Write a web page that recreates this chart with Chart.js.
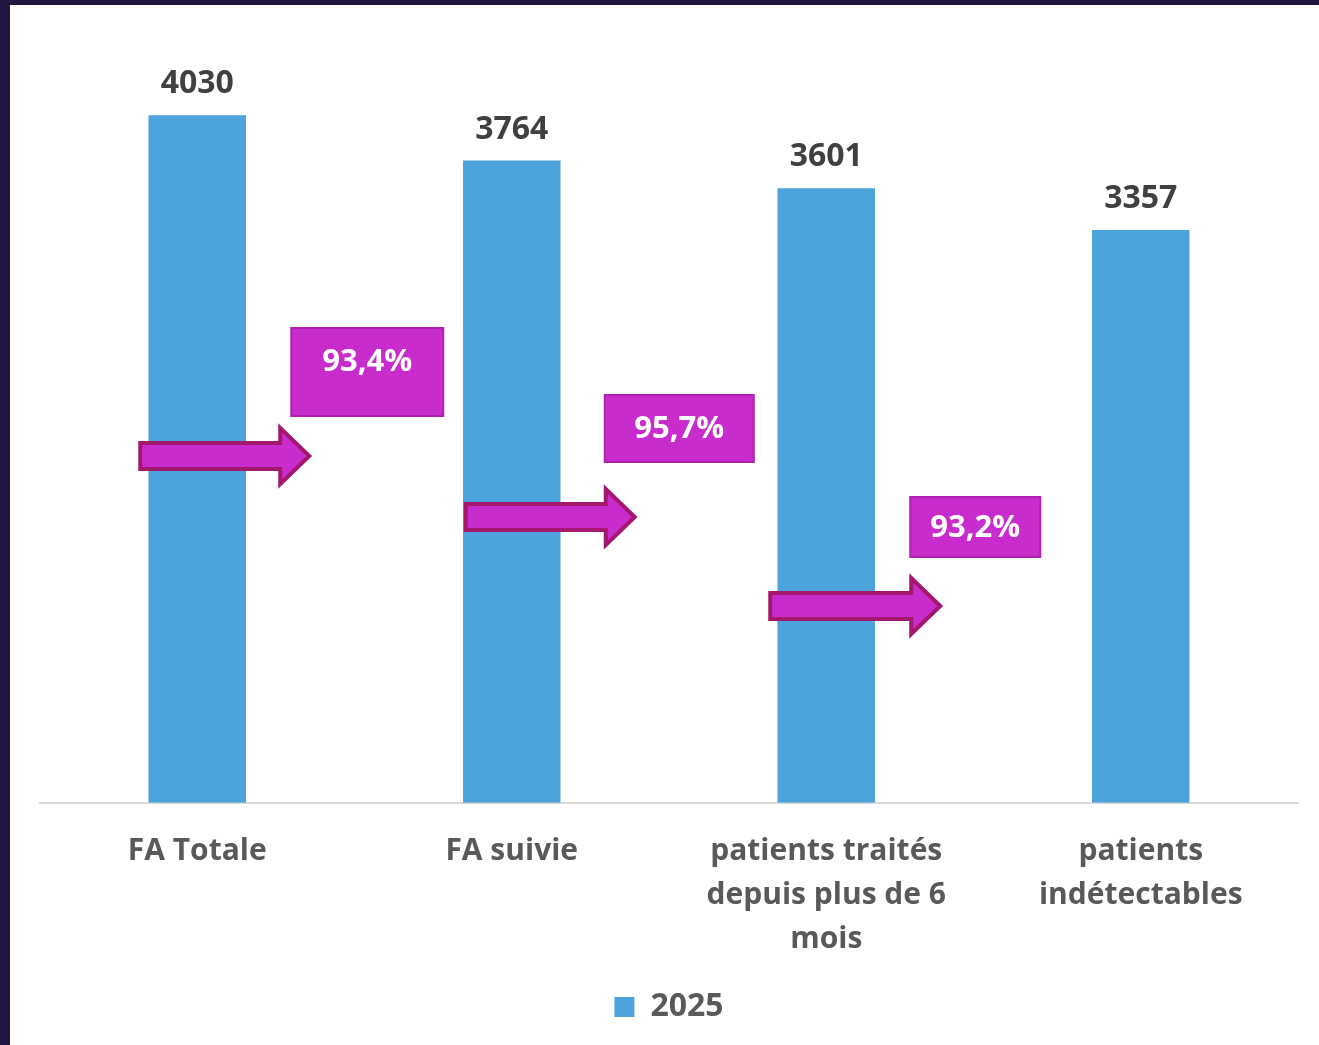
<!DOCTYPE html>
<html><head><meta charset="utf-8">
<script src="https://cdn.jsdelivr.net/npm/chart.js@4"></script>
<style>
html,body{margin:0;padding:0;background:#211640;}
#wrap{position:absolute;left:10px;top:5px;width:1309px;height:1040px;background:#fff;}
canvas{display:block;}
</style></head><body>
<div id="wrap"><canvas id="c" width="1309" height="1040"></canvas></div>
<script>
const categories = [["FA Totale"], ["FA suivie"], ["patients traités","depuis plus de 6","mois"], ["patients","indétectables"]];
const seriesName = "2025";
const values2025 = [4030, 3764, 3601, 3357];
const ratioLabels = ["93,4%", "95,7%", "93,2%"];

const BAR = "#4da3db";
const MAG = "#c92ccc";
const MAG_EDGE = "#a3186e";
const TXT = "#595959";
const FONT = "'Open Sans', sans-serif";

const decor = {
  id: "decor",
  afterDatasetsDraw(chart) {
    const ctx = chart.ctx;
    const meta = chart.getDatasetMeta(0);
    ctx.save();
    ctx.fillStyle = "#404040";
    ctx.font = "bold 32px " + FONT;
    ctx.textAlign = "center";
    ctx.textBaseline = "middle";
    meta.data.forEach((b, i) => {
      ctx.fillText(String(values2025[i]), b.x, b.y - 31);
    });
    // canvas is offset 5px from page top
    const arrows = [[-57, 112, 451], [-46, 123, 512], [-56, 114, 601]];
    const boxes = [[94, 246, 323, 411, 357], [93, 242, 390, 457, 424], [84, 214, 492, 552, 523]];
    for (let i = 0; i < ratioLabels.length; i++) {
      const cx = meta.data[i].x;
      const a = arrows[i];
      const x0 = cx + a[0], tip = cx + a[1], hx = tip - 29, y = a[2];
      ctx.beginPath();
      ctx.moveTo(x0, y - 13);
      ctx.lineTo(hx, y - 13);
      ctx.lineTo(hx, y - 28);
      ctx.lineTo(tip, y);
      ctx.lineTo(hx, y + 28);
      ctx.lineTo(hx, y + 13);
      ctx.lineTo(x0, y + 13);
      ctx.closePath();
      ctx.fillStyle = MAG;
      ctx.fill();
      ctx.lineWidth = 4;
      ctx.strokeStyle = MAG_EDGE;
      ctx.stroke();
      const bx = boxes[i];
      ctx.fillStyle = MAG;
      ctx.fillRect(cx + bx[0], bx[2], bx[1] - bx[0], bx[3] - bx[2]);
      ctx.lineWidth = 2;
      ctx.strokeStyle = "#b020b0";
      ctx.strokeRect(cx + bx[0], bx[2], bx[1] - bx[0], bx[3] - bx[2]);
      ctx.fillStyle = "#ffffff";
      ctx.font = "bold 31px " + FONT;
      ctx.fillText(ratioLabels[i], cx + (bx[0] + bx[1]) / 2, bx[4]);
    }
    ctx.restore();
  }
};

new Chart(document.getElementById("c"), {
  type: "bar",
  data: {
    labels: categories,
    datasets: [{
      label: seriesName,
      data: values2025,
      backgroundColor: BAR,
      borderWidth: 0,
      barPercentage: 0.62,
      categoryPercentage: 0.5
    }]
  },
  options: {
    responsive: false,
    animation: false,
    layout: { padding: { left: 30, right: 21, top: 30, bottom: 12 } },
    scales: {
      y: { display: false, min: 0, max: 4500 },
      x: {
        grid: { display: false, drawTicks: false },
        border: { display: true, color: "#d9d9d9", width: 2 },
        ticks: { color: TXT, font: { family: FONT, size: 30, weight: "bold", lineHeight: 1.47 }, padding: 27, maxRotation: 0, autoSkip: false },
        afterFit: (s) => { s.height -= 10; }
      }
    },
    plugins: {
      legend: {
        position: "bottom",
        labels: { color: TXT, font: { family: FONT, size: 32, weight: "bold" }, boxWidth: 20, boxHeight: 20, padding: 12 }
      },
      tooltip: { enabled: false }
    }
  },
  plugins: [decor]
});
</script>
</body></html>
